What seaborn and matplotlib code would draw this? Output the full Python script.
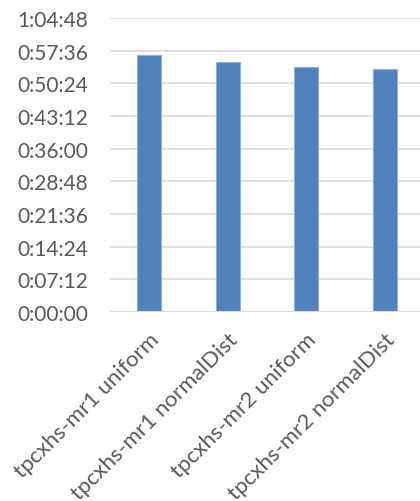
import matplotlib
matplotlib.use("Agg")
import matplotlib.pyplot as plt
from matplotlib.ticker import FuncFormatter, MultipleLocator
import pandas as pd
import seaborn as sns

# run names and elapsed time (seconds)
runs = [
    "tpcxhs-mr1 uniform",
    "tpcxhs-mr1 normalDist",
    "tpcxhs-mr2 uniform",
    "tpcxhs-mr2 normalDist",
]
elapsed_sec = [3403, 3310, 3236, 3209]

TEXT = "#595959"
GRID = "#d9d9d9"
BAR = "#4f81bd"


def hms(x, pos=None):
    s = int(round(x))
    return f"{s // 3600}:{(s % 3600) // 60:02d}:{s % 60:02d}"


df = pd.DataFrame({"run": runs, "elapsed": elapsed_sec})

sns.set_theme(style="white")
plt.rcParams["font.family"] = ["Lato", "DejaVu Sans"]

fig = plt.figure(figsize=(4.2, 5.02), dpi=100)
ax = fig.add_axes([110 / 420, 189 / 502, 310 / 420, 294 / 502])

sns.barplot(data=df, x="run", y="elapsed", color=BAR, saturation=1, width=0.31,
            edgecolor="#8eb0dc", linewidth=0.8, ax=ax, zorder=3)

ax.set_ylim(0, 3888)
ax.set_xlim(-0.5, 3.45)
ax.yaxis.set_major_locator(MultipleLocator(432))
ax.yaxis.set_major_formatter(FuncFormatter(hms))
ax.grid(axis="y", color=GRID, linewidth=1.2, zorder=0)
ax.set_xlabel("")
ax.set_ylabel("")
for side in ["top", "right", "left", "bottom"]:
    ax.spines[side].set_visible(False)
ax.axhline(0, color=GRID, linewidth=1.5, zorder=4)

ax.tick_params(axis="both", length=0, colors=TEXT)
ax.tick_params(axis="y", pad=16, labelsize=15)
ax.tick_params(axis="x", pad=12, labelsize=16)
for lbl in ax.get_xticklabels():
    lbl.set_rotation(45)
    lbl.set_ha("right")
    lbl.set_va("top")
    lbl.set_rotation_mode("anchor")
    lbl.set_color(TEXT)

fig.savefig("out.png", dpi=100)
